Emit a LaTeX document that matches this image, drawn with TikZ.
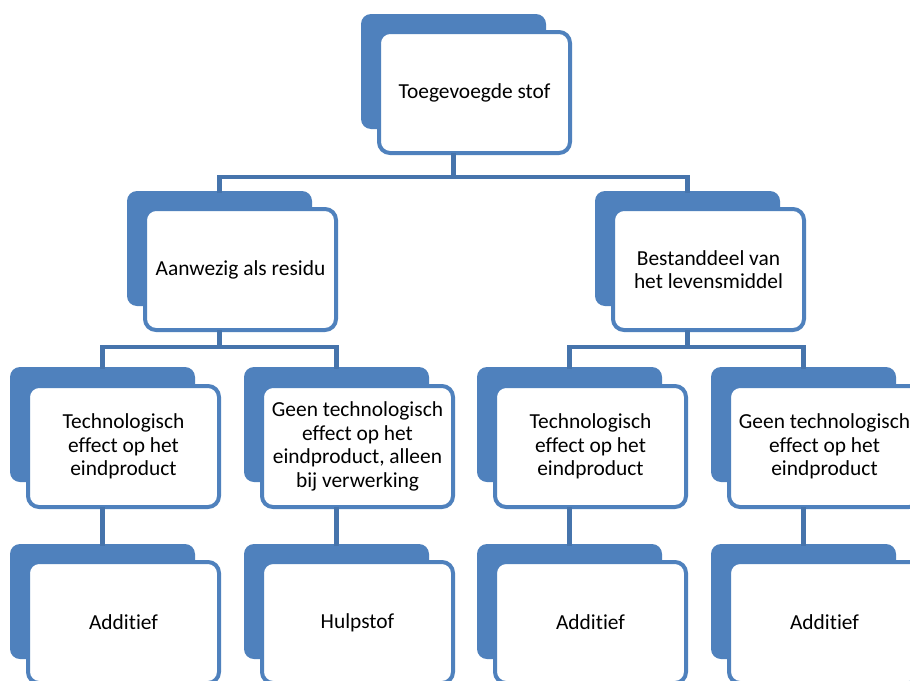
\documentclass[tikz,border=0pt]{standalone}
\usepackage{fontspec}
\setmainfont{Carlito}[Ligatures=NoCommon]
\definecolor{boxblue}{HTML}{4F81BD}
\definecolor{linkblue}{HTML}{4674AC}
\tikzset{
  backbox/.style={fill=boxblue, draw=none, rounded corners=10pt, minimum width=185pt, minimum height=115pt, inner sep=0pt, outer sep=0pt},
  frontbox/.style={fill=white, draw=boxblue, line width=4pt, rounded corners=11pt, minimum width=191pt, minimum height=121pt, inner sep=0pt, align=center, font=\fontsize{21.4}{23.5}\selectfont},
  link/.style={draw=linkblue, line width=4.5pt, line cap=rect}
}
\begin{document}
\begin{tikzpicture}[x=1pt, y=-1pt]
\path[use as bounding box] (0,0) rectangle (910,680);
\fill[white] (0,0) rectangle (910,680);
\clip (0,0) rectangle (910,680);
% level 1
\node[backbox] (tb) at (453.5,71.5) {};
\node[frontbox] (t) at (474.5,92.5) {Toegevoegde stof};
% level 2
\node[backbox] (ab) at (219.5,248.5) {};
\node[frontbox] (a) at (240.5,269.5) {Aanwezig als residu};
\node[backbox] (bb) at (687.5,248.5) {};
\node[frontbox] (b) at (708.5,269.5) {Bestanddeel van\\het levensmiddel};
% level 3
\node[backbox] (c1b) at (102.5,424.5) {};
\node[frontbox] (c1) at (123.5,446.5) {Technologisch\\effect op het\\eindproduct};
\node[backbox] (c2b) at (336.5,424.5) {};
\node[frontbox] (c2) at (357.5,446.5) {Geen technologisch\\effect op het\\eindproduct, alleen\\bij verwerking};
\node[backbox] (c3b) at (569.5,424.5) {};
\node[frontbox] (c3) at (590.5,446.5) {Technologisch\\effect op het\\eindproduct};
\node[backbox] (c4b) at (803.5,424.5) {};
\node[frontbox] (c4) at (824.5,446.5) {Geen technologisch\\effect op het\\eindproduct};
% level 4
\node[backbox] (d1b) at (102.5,601.5) {};
\node[frontbox] (d1) at (123.5,622.5) {Additief};
\node[backbox] (d2b) at (336.5,601.5) {};
\node[frontbox] (d2) at (357.5,622.5) {Hulpstof};
\node[backbox] (d3b) at (569.5,601.5) {};
\node[frontbox] (d3) at (590.5,622.5) {Additief};
\node[backbox] (d4b) at (803.5,601.5) {};
\node[frontbox] (d4) at (824.5,622.5) {Additief};
% junctions
\coordinate (j1) at (453.5,177);
\coordinate (j2) at (219.5,347);
\coordinate (j3) at (687.5,347);
% connectors
\draw[link] (t.south -| tb) -- (j1);
\draw[link] (ab.north) |- (j1) -| (bb.north);
\draw[link] (a.south -| ab) -- (j2);
\draw[link] (c1b.north) |- (j2) -| (c2b.north);
\draw[link] (b.south -| bb) -- (j3);
\draw[link] (c3b.north) |- (j3) -| (c4b.north);
\draw[link] (c1.south -| c1b) -- (d1b.north);
\draw[link] (c2.south -| c2b) -- (d2b.north);
\draw[link] (c3.south -| c3b) -- (d3b.north);
\draw[link] (c4.south -| c4b) -- (d4b.north);
\end{tikzpicture}
\end{document}
